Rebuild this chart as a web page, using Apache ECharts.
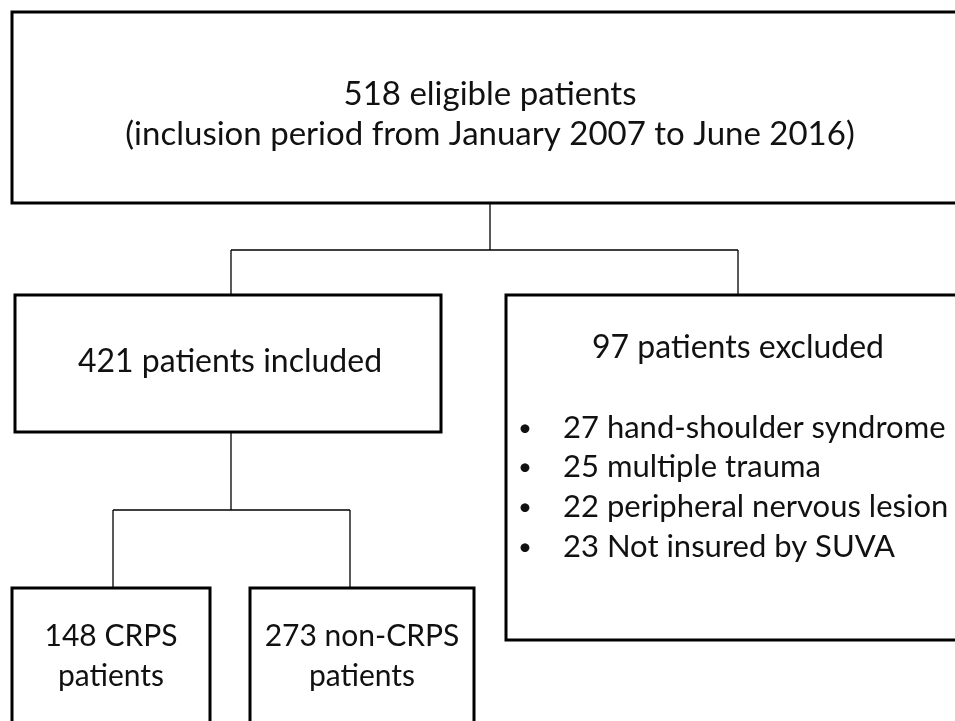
<!DOCTYPE html>
<html>
<head>
<meta charset="utf-8">
<script src="https://cdn.jsdelivr.net/npm/echarts@6/dist/echarts.min.js"></script>
<style>html,body{margin:0;padding:0;background:#fff;}#c{width:955px;height:721px;}</style>
</head>
<body>
<div id="c"></div>
<script>
// ---- data ----
const eligibleCount = 518;
const periodText = '(inclusion period from January 2007 to June 2016)';
const includedCount = 421;
const excludedCount = 97;
const exclusionCounts = [27, 25, 22, 23];
const exclusionReasons = ['hand-shoulder syndrome', 'multiple trauma', 'peripheral nervous lesion', 'Not insured by SUVA'];
const groupCounts = [148, 273];
const groupNames = ['CRPS', 'non-CRPS'];

// ---- layout (canvas units) ----
const FONT = 'Lato, "Open Sans", sans-serif';
const boxes = [
  [12, 12, 975, 203],
  [15, 295, 441, 432],
  [506, 295, 975, 640],
  [12, 588, 210, 740],
  [250, 588, 474, 740]
];
const connectors = [
  [[490, 203], [490, 250]],
  [[231, 250], [738, 250]],
  [[231, 250], [231, 295]],
  [[738, 250], [738, 295]],
  [[231, 432], [231, 510]],
  [[113, 510], [350, 510]],
  [[113, 510], [113, 588]],
  [[350, 510], [350, 588]]
];
// x, y, align, text, fontSize
const texts = [
  [490, 94, 'center', eligibleCount + ' eligible patients', 33],
  [490, 134, 'center', periodText, 33],
  [230, 362, 'center', includedCount + ' patients included', 32],
  [738, 348, 'center', excludedCount + ' patients excluded', 32],
  [111, 636, 'center', groupCounts[0] + ' ' + groupNames[0], 30],
  [111, 676, 'center', 'patients', 30],
  [362, 636, 'center', groupCounts[1] + ' ' + groupNames[1], 30],
  [362, 676, 'center', 'patients', 30]
];
const bulletY = [429, 468, 508, 548];
exclusionCounts.forEach((n, i) => {
  texts.push([525, bulletY[i] - 1, 'center', '•', 24]);
  texts.push([563, bulletY[i] - 1, 'left', n + ' ' + exclusionReasons[i], 31]);
});

const chart = echarts.init(document.getElementById('c'), null, {renderer: 'canvas'});
chart.setOption({
  animation: false,
  grid: {left: 0, right: 0, top: 0, bottom: 0},
  xAxis: {type: 'value', min: 0, max: 955, show: false},
  yAxis: {type: 'value', min: 0, max: 721, inverse: true, show: false},
  series: [
    {
      type: 'custom', clip: false, z: 1,
      data: connectors.map(c => [c[0][0], c[0][1], c[1][0], c[1][1]]),
      renderItem: (params, api) => {
        const a = api.coord([api.value(0), api.value(1)]);
        const b = api.coord([api.value(2), api.value(3)]);
        return {type: 'line', shape: {x1: a[0], y1: a[1], x2: b[0], y2: b[1]},
          style: {stroke: '#000', lineWidth: 1.3}};
      }
    },
    {
      type: 'custom', clip: false, z: 2,
      data: boxes,
      renderItem: (params, api) => {
        const a = api.coord([api.value(0), api.value(1)]);
        const b = api.coord([api.value(2), api.value(3)]);
        return {type: 'rect', shape: {x: a[0], y: a[1], width: b[0] - a[0], height: b[1] - a[1]},
          style: {fill: '#fff', stroke: '#000', lineWidth: 3}};
      }
    },
    {
      type: 'custom', clip: false, z: 3,
      data: texts.map(t => [t[0], t[1]]),
      renderItem: (params, api) => {
        const t = texts[params.dataIndex];
        const p = api.coord([api.value(0), api.value(1)]);
        return {type: 'text', style: {text: t[3], x: p[0], y: p[1], align: t[2], verticalAlign: 'middle',
          font: t[4] + 'px ' + FONT, fill: '#111'}};
      }
    }
  ]
});
</script>
</body>
</html>
